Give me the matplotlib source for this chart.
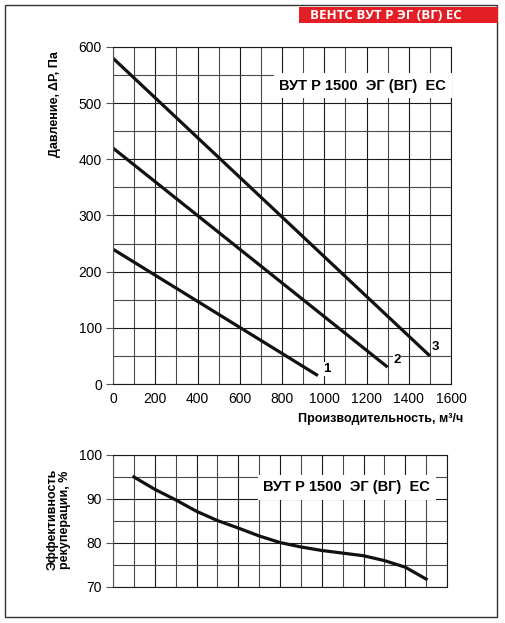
import matplotlib
matplotlib.use('Agg')
from matplotlib import pyplot as plt
from matplotlib.patches import Rectangle
from matplotlib.ticker import MultipleLocator

plt.rcParams['font.family'] = ['Liberation Sans', 'DejaVu Sans']

# pressure curves, x in m3/h, y in Pa
curve1_x = [0, 970]
curve1_y = [240, 15]
curve2_x = [0, 1300]
curve2_y = [420, 30]
curve3_x = [0, 1500]
curve3_y = [580, 50]
curve_labels = ['1', '2', '3']
label_pos_x = [1013, 1345, 1525]
label_pos_y = [27, 43, 66]

# recuperation efficiency, %
eff_x = [100, 200, 300, 400, 500, 600, 700, 800, 900, 1000, 1100, 1200, 1300, 1400, 1500]
eff_y = [95, 92.2, 89.8, 87.2, 85.1, 83.4, 81.6, 80.1, 79.1, 78.3, 77.7, 77.1, 76.0, 74.5, 71.8]

model = 'ВУТ Р 1500  ЭГ (ВГ)  ЕС'
header = 'ВЕНТС ВУТ Р ЭГ (ВГ) ЕС'

fig = plt.figure(figsize=(5.05, 6.23), dpi=100)

# outer frame and red header
fig.patches.append(Rectangle((0.0099, 0.0096), 0.974, 0.982, transform=fig.transFigure,
                             fill=False, edgecolor='#333333', linewidth=1.0))
fig.patches.append(Rectangle((0.592, 0.963), 0.394, 0.0257, transform=fig.transFigure,
                             facecolor='#e31e24', edgecolor='none'))
fig.text(0.765, 0.9755, header, color='white', fontweight='bold', fontsize=9.5,
         family=['Open Sans', 'DejaVu Sans'], ha='center', va='center')


def style_axes(ax):
    ax.xaxis.set_major_locator(MultipleLocator(200))
    ax.xaxis.set_minor_locator(MultipleLocator(100))
    ax.grid(which='major', color='#1a1a1a', linewidth=0.8)
    ax.grid(which='minor', color='#4a4a4a', linewidth=0.8)
    ax.set_axisbelow(True)
    for s in ax.spines.values():
        s.set_color('#1a1a1a')
        s.set_linewidth(0.8)
    ax.spines['left'].set_color('#555555')
    ax.tick_params(which='minor', length=0)
    ax.tick_params(axis='y', which='major', length=5, width=0.8, color='#555555',
                   labelsize=10, pad=3)
    ax.tick_params(axis='x', which='major', length=0, labelsize=10, pad=6)


# top chart
ax1 = fig.add_axes([0.2238, 0.3836, 0.6693, 0.541])
ax1.set_xlim(0, 1600)
ax1.set_ylim(0, 600)
ax1.yaxis.set_major_locator(MultipleLocator(100))
ax1.yaxis.set_minor_locator(MultipleLocator(50))
style_axes(ax1)
for xs, ys in [(curve1_x, curve1_y), (curve2_x, curve2_y), (curve3_x, curve3_y)]:
    ax1.plot(xs, ys, color='#111111', linewidth=2.3, solid_capstyle='butt')
for lab, lx, ly in zip(curve_labels, label_pos_x, label_pos_y):
    ax1.text(lx, ly, lab, fontsize=9.5, fontweight='bold', ha='center', va='center',
             bbox=dict(facecolor='white', edgecolor='none', pad=0.5))
ax1.text(0.739, 0.885, model, transform=ax1.transAxes, fontsize=10.5, fontweight='bold',
         ha='center', va='center',
         bbox=dict(facecolor='white', edgecolor='none', pad=4))
fig.text(0.917, 0.328, 'Производительность, м³/ч', fontsize=9, fontweight='bold',
         ha='right', va='center')
fig.text(0.109, 0.833, 'Давление, ΔP, Па', fontsize=9, fontweight='bold',
         rotation=90, ha='center', va='center')

# bottom chart
ax2 = fig.add_axes([0.2238, 0.0578, 0.6614, 0.2119])
ax2.set_xlim(0, 1600)
ax2.set_ylim(70, 100)
ax2.yaxis.set_major_locator(MultipleLocator(10))
ax2.yaxis.set_minor_locator(MultipleLocator(5))
style_axes(ax2)
ax2.set_xticklabels([])
ax2.plot(eff_x, eff_y, color='#111111', linewidth=2.3)
ax2.text(0.70, 0.755, model, transform=ax2.transAxes, fontsize=10.5, fontweight='bold',
         ha='center', va='center',
         bbox=dict(facecolor='white', edgecolor='none', pad=4))
fig.text(0.117, 0.166, 'Эффективность\nрекуперации, %', fontsize=9, fontweight='bold',
         rotation=90, ha='center', va='center', linespacing=1.0)

fig.savefig('out.png', dpi=100)
